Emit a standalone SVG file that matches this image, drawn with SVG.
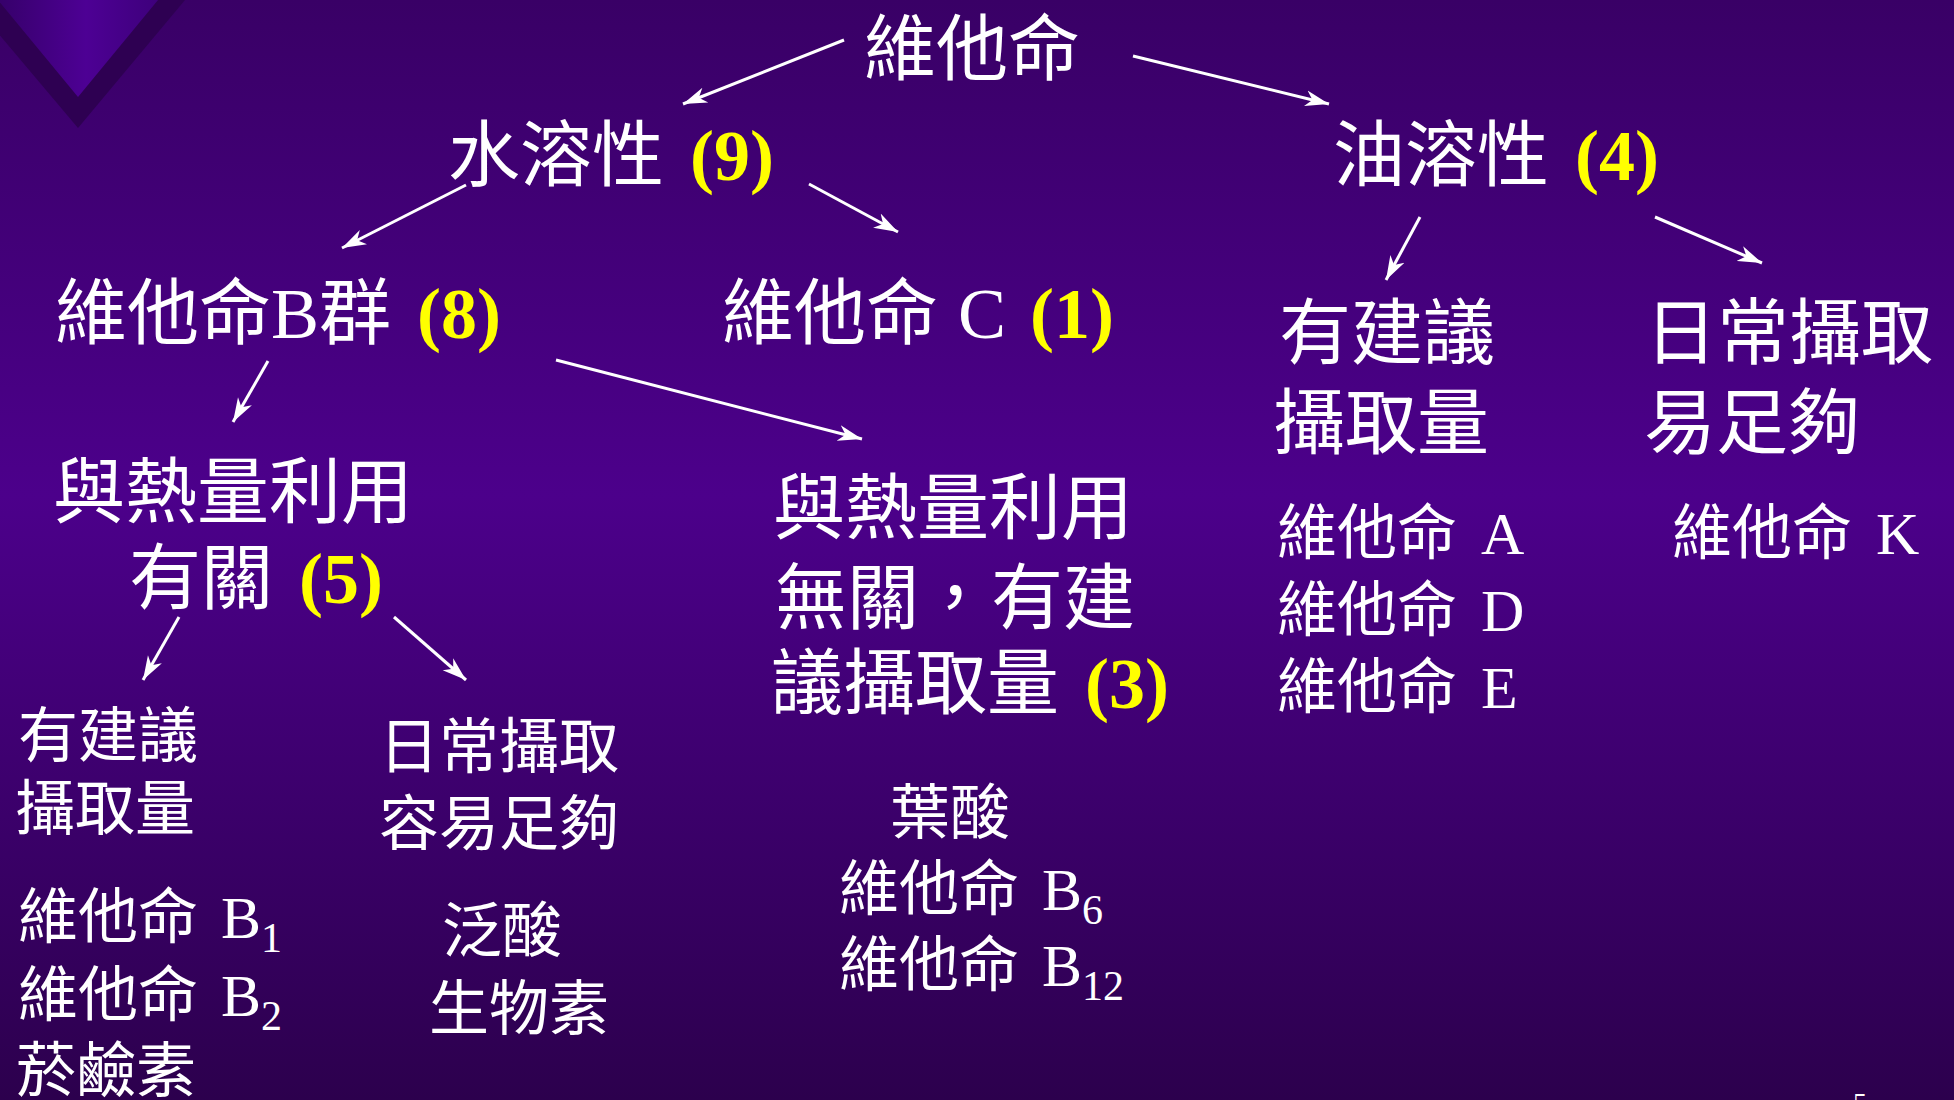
<svg xmlns="http://www.w3.org/2000/svg" width="1954" height="1100" viewBox="0 0 1954 1100">
<defs>
<linearGradient id="bg" x1="0" y1="0" x2="0" y2="1">
<stop offset="0" stop-color="#390066"/>
<stop offset="0.45" stop-color="#4c008b"/>
<stop offset="1" stop-color="#2c004d"/>
</linearGradient>
<linearGradient id="tri" x1="0" y1="0" x2="1" y2="0">
<stop offset="0" stop-color="#36006a"/>
<stop offset="0.55" stop-color="#4d0094"/>
<stop offset="1" stop-color="#3e007c"/>
</linearGradient>
<marker id="ah" markerUnits="userSpaceOnUse" markerWidth="26" markerHeight="18" refX="24" refY="9" orient="auto">
<path d="M0,1 L24,9 L0,17 L7,9 z" fill="#ffffff"/>
</marker>
<style>
text{font-family:"Liberation Serif","Noto Sans CJK TC",serif;fill:#ffffff}
.l{font-size:72px}
.s{font-size:60px}
.num{font-weight:bold;fill:#ffff00}
.sub{font-size:42px}
.c line{stroke:#ffffff;stroke-width:3;marker-end:url(#ah)}
</style>
</defs>
<rect x="0" y="0" width="1954" height="1100" fill="url(#bg)"/>
<g id="corner">
<polygon points="-30,0 185,0 78,128" fill="#2e0052"/>
<polygon points="-2,0 158,0 78,97" fill="url(#tri)"/>
</g>
<g id="n-root"><text class="l" x="864" y="74">維他命</text></g>
<g id="n-water"><text class="l" x="448" y="180">水溶性 <tspan class="num" dx="8">(9)</tspan></text></g>
<g id="n-fat"><text class="l" x="1333" y="180">油溶性 <tspan class="num" dx="8">(4)</tspan></text></g>
<g id="n-bgroup"><text class="l" x="55" y="338">維他命B群 <tspan class="num" dx="8">(8)</tspan></text></g>
<g id="n-c"><text class="l" x="722" y="338">維他命 <tspan dx="2">C</tspan> <tspan class="num" dx="6">(1)</tspan></text></g>
<g id="n-fat-rec"><text class="l" x="1279" y="358">有建議</text><text class="l" x="1273" y="448">攝取量</text></g>
<g id="n-fat-easy"><text class="l" x="1645" y="358">日常攝取</text><text class="l" x="1644" y="448">易足夠</text></g>
<g id="n-fat-rec-list"><text class="s" x="1277" y="554">維他命 <tspan dx="9">A</tspan></text><text class="s" x="1277" y="631">維他命 <tspan dx="9">D</tspan></text><text class="s" x="1277" y="708">維他命 <tspan dx="9">E</tspan></text></g>
<g id="n-fat-easy-list"><text class="s" x="1672" y="554">維他命 <tspan dx="9">K</tspan></text></g>
<g id="n-energy"><text class="l" x="53" y="517">與熱量利用</text><text class="l" x="129" y="603">有關 <tspan class="num" dx="8">(5)</tspan></text></g>
<g id="n-noenergy"><text class="l" x="773" y="533">與熱量利用</text><text class="l" x="775" y="623">無關，有建</text><text class="l" x="771" y="708">議攝取量 <tspan class="num" dx="8">(3)</tspan></text></g>
<g id="n-noenergy-list"><text class="s" x="890" y="834">葉酸</text><text class="s" x="839" y="910">維他命 <tspan dx="8">B</tspan><tspan class="sub" dy="14">6</tspan></text><text class="s" x="839" y="986">維他命 <tspan dx="8">B</tspan><tspan class="sub" dy="14">12</tspan></text></g>
<g id="n-b-rec"><text class="s" x="18" y="757">有建議</text><text class="s" x="15" y="830">攝取量</text></g>
<g id="n-b-easy"><text class="s" x="379" y="768">日常攝取</text><text class="s" x="379" y="845">容易足夠</text></g>
<g id="n-b-rec-list"><text class="s" x="18" y="938">維他命 <tspan dx="8">B</tspan><tspan class="sub" dy="14">1</tspan></text><text class="s" x="18" y="1016">維他命 <tspan dx="8">B</tspan><tspan class="sub" dy="14">2</tspan></text><text class="s" x="16" y="1092">菸鹼素</text></g>
<g id="n-b-easy-list"><text class="s" x="442" y="952">泛酸</text><text class="s" x="429" y="1030">生物素</text></g>
<g id="page"><text x="1853" y="1112" font-size="28">5</text></g>
<g id="connectors" class="c">
<line x1="844" y1="40" x2="683" y2="104"/>
<line x1="1133" y1="56" x2="1329" y2="104"/>
<line x1="466" y1="185" x2="342" y2="248"/>
<line x1="809" y1="184" x2="898" y2="232"/>
<line x1="1420" y1="217" x2="1386" y2="280"/>
<line x1="1655" y1="217" x2="1762" y2="263"/>
<line x1="268" y1="361" x2="233" y2="422"/>
<line x1="556" y1="360" x2="862" y2="439"/>
<line x1="179" y1="617" x2="143" y2="680"/>
<line x1="394" y1="617" x2="466" y2="680"/>
</g>
</svg>
